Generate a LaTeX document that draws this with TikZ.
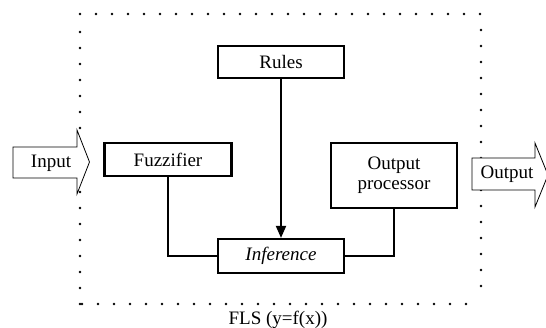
\documentclass[tikz,border=0pt]{standalone}
\usepackage{fontspec}
\setmainfont{Liberation Serif}
\usetikzlibrary{arrows.meta}
\begin{document}
\begin{tikzpicture}[x=1pt,y=-1pt,
  every node/.style={font=\fontsize{19}{21}\selectfont},
  block/.style={draw, line width=2.2pt, fill=white, inner sep=0pt, align=center},
  link/.style={line width=1.9pt},
  bigarrow/.style={draw, line width=0.8pt, fill=white, line join=miter},
  frame/.style={line width=2.8pt, line cap=round, dash pattern=on 0pt off 16pt}]
\useasboundingbox (0,0) rectangle (546,328);

% system boundary (dotted)
\draw[frame] (80,304) -- (80,22);
\draw[frame] (80,14) -- (482,14);
\draw[frame] (481,30) -- (481,292);
\draw[frame] (466,304) -- (80,304);

% input / output block arrows
\draw[bigarrow] (13,147) -- (77,147) -- (77,130) -- (89.5,162) -- (77,194) -- (77,178) -- (13,178) -- cycle;
\node (inlabel) at (51,163) {Input};
\draw[bigarrow] (472,158) -- (535,158) -- (535,143) -- (548,175) -- (535,207) -- (535,190) -- (472,190) -- cycle;
\node (outlabel) at (507,174) {Output};

% processing blocks
\node[block, minimum width=126pt, minimum height=32pt] (rules) at (281,62) {Rules};
\node[block, minimum width=127pt, minimum height=33pt] (fuzz) at (168,159.5) {Fuzzifier};
\node[block, minimum width=126pt, minimum height=65pt] (outproc) at (394,175.5) {Output\\[-1pt]processor};
\node[block, minimum width=126pt, minimum height=34pt] (infer) at (281,256) {\itshape Inference};

% connections
\draw[link, -{Triangle[length=12pt,width=10pt]}] (rules) -- (infer);
\draw[link] (fuzz.south) |- (infer.west);
\draw[link] (outproc.south) |- (infer.east);

% caption
\node[anchor=base] (caption) at (278,325) {FLS (y=f(x))};
\end{tikzpicture}
\end{document}
